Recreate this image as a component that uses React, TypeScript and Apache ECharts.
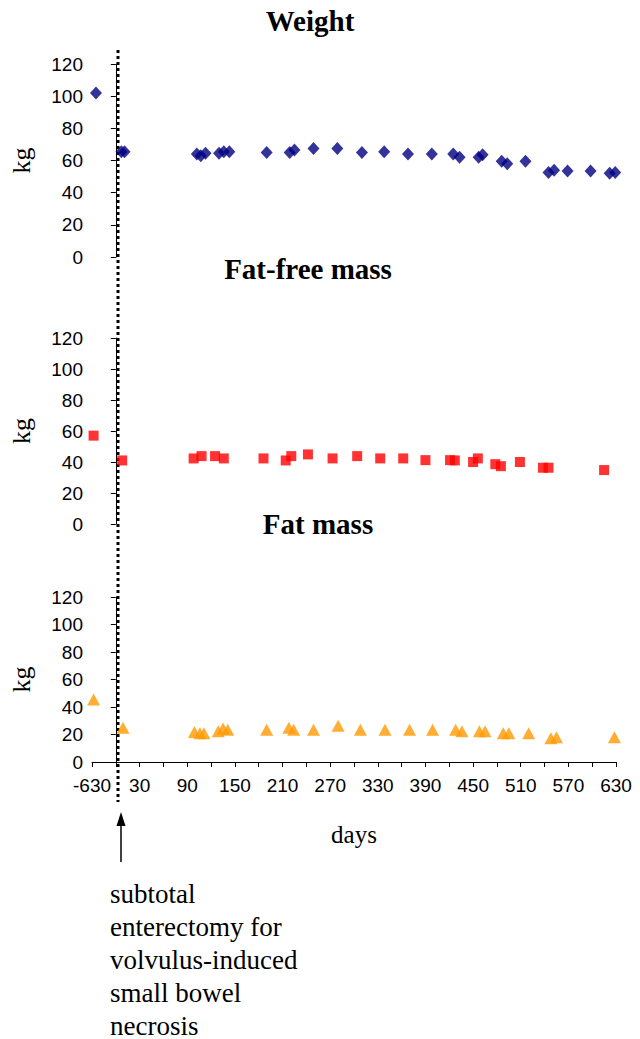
import React, { useEffect, useRef } from "react";
import * as echarts from "echarts";

// x-axis: days (the first tick at -30 stands for day -630, before surgery)
const xTickValues = [-30, 30, 90, 150, 210, 270, 330, 390, 450, 510, 570, 630];
const yTicks = [0, 20, 40, 60, 80, 100, 120];

const weightDays = [-25, 7, 11, 102, 107, 113, 130, 136, 143, 190, 219, 225, 249, 279, 310, 338, 368, 398, 425, 433, 457, 462, 486, 493, 516, 545, 552, 569, 598, 622, 629];
const weightKg = [102, 65.5, 65.5, 64, 63, 64.5, 64.5, 65.5, 65.5, 65, 65, 66.5, 67.5, 67.5, 65, 65.5, 64, 64, 64, 62, 62, 63.5, 59.5, 58, 59.5, 52.5, 54, 53.5, 53.5, 52, 52.5];

const ffmDays = [-28, 8, 98, 108, 125, 136, 186, 214, 221, 242, 273, 304, 333, 362, 390, 421, 427, 450, 456, 478, 485, 509, 538, 545, 615];
const ffmKg = [57, 41, 42.3, 43.8, 43.8, 42.3, 42.3, 41, 43.8, 44.9, 42.3, 43.8, 42.3, 42.3, 41.2, 41.2, 41, 40, 42.3, 38.6, 37.3, 40, 36.3, 36.3, 34.8];

const fmDays = [-28, 9, 99, 106, 111, 129, 135, 141, 190, 218, 224, 249, 280, 308, 339, 370, 399, 428, 436, 458, 465, 488, 495, 520, 548, 555, 628];
const fmKg = [45.5, 25, 21.9, 20.9, 20.9, 22.4, 24.4, 23.4, 23.4, 25, 23.4, 23.4, 26.4, 23.4, 23.4, 23.4, 23.4, 23.4, 22.4, 22.4, 22.4, 20.9, 20.9, 20.9, 17.2, 18, 18];

const titles = ["Weight", "Fat-free mass", "Fat mass"];
const annotation = ["subtotal", "enterectomy for", "volvulus-induced", "small bowel", "necrosis"];

const SANS = "'Liberation Sans', Arial, sans-serif";
const SERIF = "'Liberation Serif', 'Times New Roman', serif";

const zip = (xs: number[], ys: number[]) => xs.map((x, i) => [x, ys[i]]);

export default function App() {
  const ref = useRef<HTMLDivElement>(null);
  useEffect(() => {
    if (!ref.current) return;
    const chart = echarts.init(ref.current, null, { renderer: "svg" });
    const grids = [
      { left: 92, top: 64, width: 524, height: 193 },
      { left: 92, top: 338, width: 524, height: 186 },
      { left: 92, top: 597, width: 524, height: 165 },
    ];
    const yAxisBase = (gi: number) => ({
      type: "value",
      gridIndex: gi,
      min: 0,
      max: 120,
      interval: 20,
      splitLine: { show: false },
      axisLine: { show: true, lineStyle: { color: "#000", width: 1 } },
      axisTick: { show: true, inside: false, length: 5, lineStyle: { color: "#000" } },
      axisLabel: { color: "#000", fontFamily: SANS, fontSize: 19, margin: 9 },
      name: "kg",
      nameLocation: "middle",
      nameRotate: 90,
      nameGap: 58,
      nameTextStyle: { fontFamily: SERIF, fontSize: 26, color: "#000" },
    });
    const xAxisBase = (gi: number, show: boolean) => ({
      type: "value",
      gridIndex: gi,
      min: -30,
      max: 630,
      interval: 30,
      show,
      splitLine: { show: false },
      axisLine: { show: true, onZero: false, lineStyle: { color: "#000", width: 1 } },
      axisTick: { show: true, length: 5, lineStyle: { color: "#000" } },
      axisLabel: {
        color: "#000",
        fontFamily: SANS,
        fontSize: 19,
        margin: 14,
        showMinLabel: true,
        showMaxLabel: true,
        formatter: (v: number) =>
          xTickValues.includes(v) ? (v === -30 ? "-630" : String(v)) : "",
      },
      name: show ? "days" : "",
      nameLocation: "middle",
      nameGap: 60,
      nameTextStyle: { fontFamily: SERIF, fontSize: 25, color: "#000" },
    });
    const option: any = {
      animation: false,
      backgroundColor: "#fff",
      title: [
        { text: titles[0], left: 310, top: 6 },
        { text: titles[1], left: 308, top: 254 },
        { text: titles[2], left: 318, top: 509 },
      ].map((t) => ({
        ...t,
        textAlign: "center",
        padding: 0,
        textStyle: { fontFamily: SERIF, fontWeight: "bold", fontSize: 29, color: "#000" },
      })),
      grid: grids,
      xAxis: [xAxisBase(0, false), xAxisBase(1, false), xAxisBase(2, true)],
      yAxis: [yAxisBase(0), yAxisBase(1), yAxisBase(2)],
      series: [
        {
          type: "scatter",
          name: "Weight",
          xAxisIndex: 0,
          yAxisIndex: 0,
          symbol: "diamond",
          symbolSize: [12, 13],
          itemStyle: { color: "#000080" },
          data: zip(weightDays, weightKg),
        },
        {
          type: "scatter",
          name: "Fat-free mass",
          xAxisIndex: 1,
          yAxisIndex: 1,
          symbol: "rect",
          symbolSize: 10,
          itemStyle: { color: "#ff0000" },
          data: zip(ffmDays, ffmKg),
        },
        {
          type: "scatter",
          name: "Fat mass",
          xAxisIndex: 2,
          yAxisIndex: 2,
          symbol: "triangle",
          symbolSize: [13, 12],
          itemStyle: { color: "#ff9900" },
          data: zip(fmDays, fmKg),
        },
      ],
      graphic: [
        {
          type: "line",
          shape: { x1: 118, y1: 50, x2: 118, y2: 802 },
          style: { stroke: "#000", lineWidth: 3, lineDash: [3, 3] },
          z: 1,
        },
        {
          type: "line",
          shape: { x1: 121, y1: 822, x2: 121, y2: 862 },
          style: { stroke: "#000", lineWidth: 1.5 },
        },
        {
          type: "polygon",
          shape: { points: [[121, 812], [116.5, 826], [125.5, 826]] },
          style: { fill: "#000" },
        },
        {
          type: "text",
          left: 110,
          top: 877,
          style: {
            text: annotation.join("\n"),
            font: `27px ${SERIF}`,
            lineHeight: 33,
            fill: "#000",
          },
        },
      ],
    };
    chart.setOption(option);
    return () => chart.dispose();
  }, []);
  return (
    <div
      ref={ref}
      style={{ position: "fixed", left: 0, top: 0, width: 640, height: 1039 }}
    />
  );
}
